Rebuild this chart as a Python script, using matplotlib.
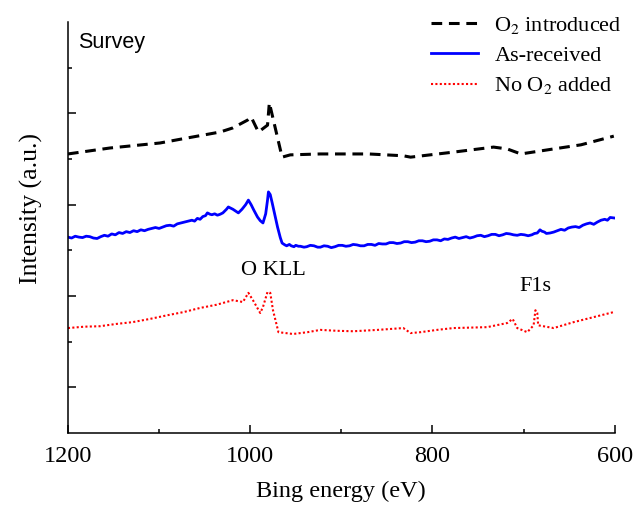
import numpy as np
import matplotlib
matplotlib.use("Agg")
import matplotlib.pyplot as plt
from matplotlib.ticker import FixedLocator, MultipleLocator

# XPS survey, binding energy (eV) vs intensity (a.u., offset)
o2_energy = [1200, 1154, 1099, 1069, 1033, 1019, 1003, 999, 991, 981, 979, 965, 956,
             923, 870, 832, 824, 777, 733, 718, 703, 667, 637, 601]
o2_intensity = [6.11, 6.24, 6.35, 6.46, 6.59, 6.68, 6.85, 6.92, 6.59, 6.74, 7.23, 6.04, 6.09,
                6.11, 6.11, 6.07, 6.04, 6.15, 6.26, 6.22, 6.11, 6.22, 6.31, 6.50]

asrec_energy = [1200, 1196, 1192, 1188, 1184, 1180, 1176, 1172, 1168, 1164, 1160, 1156,
                1152, 1148, 1144, 1140, 1136, 1132, 1128, 1124, 1120, 1116, 1112, 1108,
                1104, 1100, 1096, 1092, 1088, 1084, 1080, 1076, 1072, 1068, 1064, 1061,
                1058, 1055, 1052, 1049, 1047, 1044, 1042, 1039, 1036, 1033, 1030, 1028,
                1026, 1024, 1021, 1019, 1016, 1013, 1009, 1005, 1002, 999, 996, 992, 989,
                986, 983, 981, 980, 978, 976, 973, 970, 967, 965, 962, 960, 957, 955, 952,
                950, 947, 945, 941, 938, 934, 930, 926, 923, 919, 915, 911, 907, 903, 899,
                895, 891, 887, 883, 879, 875, 871, 867, 863, 859, 855, 851, 847, 843, 839,
                835, 831, 827, 823, 819, 815, 811, 807, 803, 799, 795, 791, 787, 783, 779,
                775, 771, 767, 763, 759, 755, 751, 747, 743, 739, 735, 731, 727, 723, 719,
                715, 711, 707, 703, 699, 695, 691, 688, 685, 682, 680, 677, 675, 671, 667,
                663, 659, 655, 651, 647, 643, 639, 635, 631, 627, 623, 619, 615, 611, 608,
                605, 601]
asrec_intensity = [4.29, 4.27, 4.31, 4.29, 4.28, 4.31, 4.30, 4.27, 4.26, 4.30, 4.33, 4.31,
                   4.36, 4.34, 4.39, 4.37, 4.41, 4.39, 4.43, 4.41, 4.45, 4.43, 4.46, 4.48,
                   4.50, 4.48, 4.51, 4.54, 4.55, 4.53, 4.58, 4.60, 4.62, 4.64, 4.66, 4.64,
                   4.70, 4.68, 4.74, 4.76, 4.82, 4.79, 4.78, 4.80, 4.77, 4.79, 4.82, 4.86,
                   4.90, 4.95, 4.92, 4.90, 4.86, 4.82, 4.90, 5.00, 5.10, 5.00, 4.88, 4.73, 4.65,
                   4.60, 4.80, 5.10, 5.28, 5.22, 5.05, 4.78, 4.51, 4.28, 4.16, 4.12, 4.10, 4.13,
                   4.10, 4.08, 4.11, 4.09, 4.09, 4.07, 4.08, 4.11, 4.10, 4.07, 4.07, 4.10, 4.09,
                   4.06, 4.08, 4.11, 4.11, 4.09, 4.10, 4.13, 4.12, 4.10, 4.10, 4.13, 4.13, 4.11,
                   4.15, 4.14, 4.14, 4.17, 4.17, 4.15, 4.16, 4.19, 4.19, 4.17, 4.18, 4.21, 4.21,
                   4.19, 4.20, 4.23, 4.23, 4.21, 4.25, 4.24, 4.27, 4.29, 4.26, 4.28, 4.30, 4.27,
                   4.29, 4.32, 4.33, 4.30, 4.32, 4.35, 4.35, 4.32, 4.34, 4.37, 4.36, 4.34, 4.33,
                   4.35, 4.34, 4.32, 4.34, 4.37, 4.38, 4.45, 4.42, 4.40, 4.37, 4.38, 4.40, 4.43,
                   4.46, 4.44, 4.49, 4.51, 4.52, 4.50, 4.55, 4.58, 4.60, 4.57, 4.62, 4.66, 4.68,
                   4.66, 4.72, 4.71]

noo2_energy = [1200, 1182, 1165, 1147, 1129, 1110, 1091, 1073, 1055, 1037, 1019, 1008,
               1002, 997, 989, 986, 981, 978, 975, 969, 953, 937, 923, 905, 887, 860,
               832, 824, 813, 795, 777, 758, 740, 718, 712, 707, 696, 689, 687, 685, 684,
               667, 645, 623, 601]
noo2_intensity = [2.30, 2.33, 2.34, 2.39, 2.43, 2.50, 2.58, 2.65, 2.74, 2.81, 2.91, 2.87,
                  3.07, 2.91, 2.63, 2.76, 3.09, 3.07, 2.69, 2.21, 2.17, 2.21, 2.26, 2.24, 2.23,
                  2.26, 2.30, 2.19, 2.21, 2.26, 2.30, 2.31, 2.32, 2.41, 2.50, 2.30, 2.21, 2.36,
                  2.69, 2.63, 2.36, 2.30, 2.43, 2.54, 2.65]

plt.rcParams['font.family'] = 'Liberation Serif'
plt.rcParams['mathtext.fontset'] = 'stix'

fig = plt.figure(figsize=(6.41, 5.09), dpi=100)
ax = fig.add_axes([0.106, 0.149, 0.853, 0.808])

ax.plot(o2_energy, o2_intensity, color='black', lw=2.2, dashes=(3.5, 2.2),
        label='O$_2$ introduced')
ax.plot(asrec_energy, asrec_intensity, color='blue', lw=2.0, label='As-received')
ax.plot(noo2_energy, noo2_intensity, color='red', lw=1.5, dashes=(1, 1.1),
        label='No O$_2$ added')

ax.set_xlim(1200, 600)
ax.set_ylim(0, 9)
ax.xaxis.set_major_locator(MultipleLocator(200))
ax.xaxis.set_minor_locator(MultipleLocator(100))
ax.yaxis.set_major_locator(FixedLocator([1, 3, 5, 7]))
ax.yaxis.set_minor_locator(FixedLocator([2, 4, 6, 8]))
ax.set_yticklabels([])
ax.tick_params(which='both', direction='in', width=1.1, top=False, right=False)
ax.tick_params(which='major', length=6, labelsize=17.5, pad=9)
ax.tick_params(which='minor', length=3)
for side in ['top', 'right']:
    ax.spines[side].set_visible(False)
for side in ['left', 'bottom']:
    ax.spines[side].set_linewidth(1.1)

ax.set_xlabel('Bing energy (eV)', fontsize=17.5, labelpad=10)
ax.set_ylabel('Intensity (a.u.)', fontsize=18.5)
ax.yaxis.set_label_coords(-0.045, 0.547)

ax.text(0.018, 0.975, 'Survey', transform=ax.transAxes, fontsize=15.5,
        family='Liberation Sans', va='top', ha='left')
ax.text(975, 3.57, 'O KLL', fontsize=16, ha='center', va='center')
ax.text(687, 3.2, 'F1s', fontsize=16, ha='center', va='center')

ax.legend(loc='upper right', bbox_to_anchor=(1.05, 1.065), frameon=False, fontsize=16,
          handlelength=2.1, labelspacing=0.42, handletextpad=0.75)

fig.savefig('out.png', dpi=100)
